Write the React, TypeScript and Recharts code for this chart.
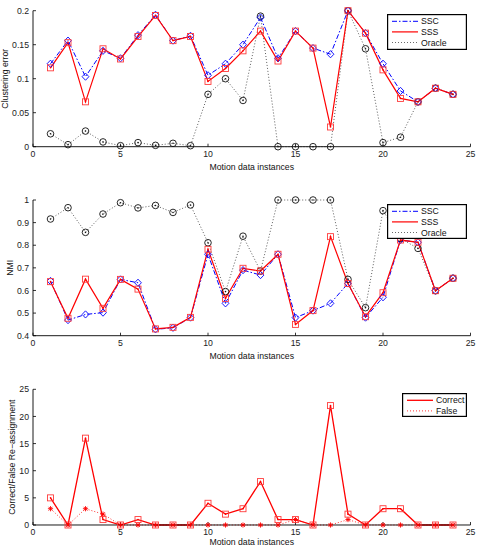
import React from "react";
import { LineChart, Line, XAxis, YAxis } from "recharts";

// motion data instances on the x axis
const instances = [1, 2, 3, 4, 5, 6, 7, 8, 9, 10, 11, 12, 13, 14, 15, 16, 17, 18, 19, 20, 21, 22, 23, 24];

// clustering error
const sscError = [0.122, 0.156, 0.103, 0.141, 0.13, 0.164, 0.194, 0.156, 0.163, 0.105, 0.122, 0.15, 0.19, 0.13, 0.17, 0.145, 0.136, 0.2, 0.167, 0.122, 0.082, 0.066, 0.086, 0.077];
const sssError = [0.116, 0.153, 0.066, 0.144, 0.129, 0.162, 0.193, 0.156, 0.162, 0.096, 0.115, 0.141, 0.17, 0.126, 0.17, 0.145, 0.029, 0.2, 0.167, 0.113, 0.071, 0.066, 0.086, 0.077];
const oracleError = [0.019, 0.003, 0.023, 0.007, 0.0015, 0.006, 0.002, 0.005, 0.0015, 0.077, 0.1, 0.068, 0.192, 0, 0, 0, 0, 0.2, 0.144, 0.006, 0.014, 0.066, 0.086, 0.077];

// normalised mutual information
const sscNmi = [0.642, 0.469, 0.494, 0.502, 0.649, 0.634, 0.428, 0.435, 0.48, 0.76, 0.543, 0.69, 0.668, 0.76, 0.48, 0.511, 0.543, 0.631, 0.48, 0.57, 0.823, 0.813, 0.599, 0.654];
const sssNmi = [0.639, 0.477, 0.65, 0.521, 0.649, 0.606, 0.43, 0.437, 0.481, 0.782, 0.565, 0.698, 0.686, 0.76, 0.45, 0.511, 0.838, 0.631, 0.484, 0.59, 0.823, 0.813, 0.599, 0.654];
const oracleNmi = [0.916, 0.966, 0.857, 0.938, 0.988, 0.965, 0.976, 0.945, 0.978, 0.811, 0.595, 0.84, 0.686, 1, 1, 1, 1, 0.649, 0.524, 0.953, 0.83, 0.786, 0.599, 0.654];

// re-assignment counts
const correctCounts = [5, 0, 16, 1, 0, 1, 0, 0, 0, 4, 2, 3, 8, 1, 1, 0, 22, 2, 0, 3, 3, 0, 0, 0];
const falseCounts = [3, 0, 3, 2, 0, 0, 0, 0, 0, 0, 0, 0, 0, 0, 1, 0, 0, 1, 0, 0, 0, 0, 0, 0];

const xTicks = [0, 5, 10, 15, 20, 25];
const errorTicks = [0, 0.05, 0.1, 0.15, 0.2];
const nmiTicks = [0.4, 0.5, 0.6, 0.7, 0.8, 0.9, 1];
const countTicks = [0, 5, 10, 15, 20, 25];

const errorRows = instances.map((x, i) => ({ x, ssc: sscError[i], sss: sssError[i], oracle: oracleError[i] }));
const nmiRows = instances.map((x, i) => ({ x, ssc: sscNmi[i], sss: sssNmi[i], oracle: oracleNmi[i] }));
const countRows = instances.map((x, i) => ({ x, correct: correctCounts[i], wrong: falseCounts[i] }));

const FONT = "'Liberation Sans', Arial, Helvetica, sans-serif";
const BLUE = "#0000ff";
const RED = "#ff0000";
const PINK = "#ff3b3b";
const DASH_DOT = "5 2 1.5 2";
const DOTTED = "1 2";

const tickStyle = { fontSize: 8.7, fill: "#222", fontFamily: FONT };

type DotArgs = { cx?: number; cy?: number; index?: number };

const diamond = ({ cx, cy, index }: DotArgs) =>
  cx == null || cy == null ? null : (
    <path
      key={`dm-${index}`}
      d={`M${cx},${cy - 3.6}L${cx + 3.4},${cy}L${cx},${cy + 3.6}L${cx - 3.4},${cy}Z`}
      fill="none"
      stroke={BLUE}
      strokeWidth={0.9}
    />
  );

const square = ({ cx, cy, index }: DotArgs) =>
  cx == null || cy == null ? null : (
    <g key={`sq-${index}`}>
      <rect x={cx - 3} y={cy - 3} width={6} height={6} fill="none" stroke={PINK} strokeWidth={0.9} />
      <circle cx={cx} cy={cy} r={0.8} fill={RED} />
    </g>
  );

const circle = ({ cx, cy, index }: DotArgs) =>
  cx == null || cy == null ? null : (
    <g key={`ci-${index}`}>
      <circle cx={cx} cy={cy} r={3.3} fill="none" stroke="#111" strokeWidth={0.9} />
      <circle cx={cx} cy={cy} r={0.8} fill="#111" />
    </g>
  );

const asterisk = ({ cx, cy, index }: DotArgs) =>
  cx == null || cy == null ? null : (
    <g key={`as-${index}`} stroke={RED} strokeWidth={0.9}>
      <line x1={cx - 2.6} y1={cy} x2={cx + 2.6} y2={cy} />
      <line x1={cx} y1={cy - 2.6} x2={cx} y2={cy + 2.6} />
      <line x1={cx - 1.9} y1={cy - 1.9} x2={cx + 1.9} y2={cy + 1.9} />
      <line x1={cx - 1.9} y1={cy + 1.9} x2={cx + 1.9} y2={cy - 1.9} />
    </g>
  );

type LegendEntry = { name: string; color: string; dash?: string; width: number };

const methodLegend: LegendEntry[] = [
  { name: "SSC", color: BLUE, dash: DASH_DOT, width: 1 },
  { name: "SSS", color: RED, width: 1.2 },
  { name: "Oracle", color: "#444", dash: DOTTED, width: 0.8 },
];

const countLegend: LegendEntry[] = [
  { name: "Correct", color: RED, width: 1.3 },
  { name: "False", color: RED, dash: DOTTED, width: 0.8 },
];

function BoxLegend({ entries, left, top, width, height }: { entries: LegendEntry[]; left: number; top: number; width: number; height: number }) {
  return (
    <svg style={{ position: "absolute", left, top }} width={width} height={height}>
      <rect x={0.6} y={0.6} width={width - 1.2} height={height - 1.2} fill="#fff" stroke="#000" strokeWidth={1.2} />
      {entries.map((e, i) => {
        const y = 7.3 + i * 10.6;
        return (
          <g key={e.name}>
            <line x1={5} y1={y} x2={31} y2={y} stroke={e.color} strokeWidth={e.width} strokeDasharray={e.dash} />
            <text x={34} y={y + 3.1} fontSize={8.7} fontFamily={FONT} fill="#111">
              {e.name}
            </text>
          </g>
        );
      })}
    </svg>
  );
}

// extra bottom margin leaves room for descenders of the x label
const chartMargin = (top: number) => ({ top, right: 9.5, bottom: 3, left: 5 });

export default function App() {
  const xAxis = (labelOffset: number) => (
    <XAxis
      dataKey="x"
      type="number"
      domain={[0, 25]}
      ticks={xTicks}
      interval={0}
      height={23.3}
      tickSize={-3}
      tickMargin={7}
      tick={tickStyle}
      stroke="#000"
      axisLine={{ stroke: "#000", strokeWidth: 0.9 }}
      tickLine={{ stroke: "#000", strokeWidth: 0.8 }}
      label={{ value: "Motion data instances", position: "insideBottom", offset: labelOffset, style: { fontSize: 8.7, fill: "#111", fontFamily: FONT } }}
    />
  );

  const yAxis = (ticks: number[], domain: [number, number], label: string, offset: number) => (
    <YAxis
      type="number"
      domain={domain}
      ticks={ticks}
      interval={0}
      width={28}
      tickSize={-3}
      tickMargin={7}
      tick={tickStyle}
      stroke="#000"
      axisLine={{ stroke: "#000", strokeWidth: 0.9 }}
      tickLine={{ stroke: "#000", strokeWidth: 0.8 }}
      tickFormatter={(v: number) => String(Math.round(v * 100) / 100)}
      label={{ value: label, angle: -90, position: "insideLeft", offset, style: { textAnchor: "middle", fontSize: 8.7, fill: "#111", fontFamily: FONT } }}
    />
  );

  return (
    <div style={{ position: "absolute", left: 0, top: 0, width: 480, height: 548, overflow: "hidden", background: "#fff", fontFamily: FONT }}>
      {/* clustering error */}
      <div style={{ position: "absolute", left: 0, top: 0 }}>
        <LineChart width={480} height={173} data={errorRows} margin={chartMargin(10.7)}>
          {xAxis(0.5)}
          {yAxis(errorTicks, [0, 0.2], "Clustering error", 0)}
          <Line dataKey="oracle" stroke="#333" strokeWidth={0.8} strokeDasharray={DOTTED} dot={circle} isAnimationActive={false} />
          <Line dataKey="ssc" stroke={BLUE} strokeWidth={1} strokeDasharray={DASH_DOT} dot={diamond} isAnimationActive={false} />
          <Line dataKey="sss" stroke={RED} strokeWidth={1.2} dot={square} isAnimationActive={false} />
        </LineChart>
        <BoxLegend entries={methodLegend} left={387} top={14} width={80} height={36} />
      </div>

      {/* NMI */}
      <div style={{ position: "absolute", left: 0, top: 190 }}>
        <LineChart width={480} height={172} data={nmiRows} margin={chartMargin(10)}>
          {xAxis(0.5)}
          {yAxis(nmiTicks, [0.4, 1], "NMI", 5)}
          <Line dataKey="oracle" stroke="#333" strokeWidth={0.8} strokeDasharray={DOTTED} dot={circle} isAnimationActive={false} />
          <Line dataKey="ssc" stroke={BLUE} strokeWidth={1} strokeDasharray={DASH_DOT} dot={diamond} isAnimationActive={false} />
          <Line dataKey="sss" stroke={RED} strokeWidth={1.2} dot={square} isAnimationActive={false} />
        </LineChart>
        <BoxLegend entries={methodLegend} left={387} top={14} width={80} height={35} />
      </div>

      {/* re-assignments */}
      <div style={{ position: "absolute", left: 0, top: 375 }}>
        <LineChart width={480} height={176.3} data={countRows} margin={chartMargin(14.3)}>
          {xAxis(3)}
          {yAxis(countTicks, [0, 25], "Correct/False Re\u2212assignment", 7)}
          <Line dataKey="wrong" stroke={RED} strokeWidth={0.8} strokeDasharray={DOTTED} dot={asterisk} isAnimationActive={false} />
          <Line dataKey="correct" stroke={RED} strokeWidth={1.3} dot={square} isAnimationActive={false} />
        </LineChart>
        <BoxLegend entries={countLegend} left={402} top={18} width={65} height={24} />
      </div>
    </div>
  );
}
